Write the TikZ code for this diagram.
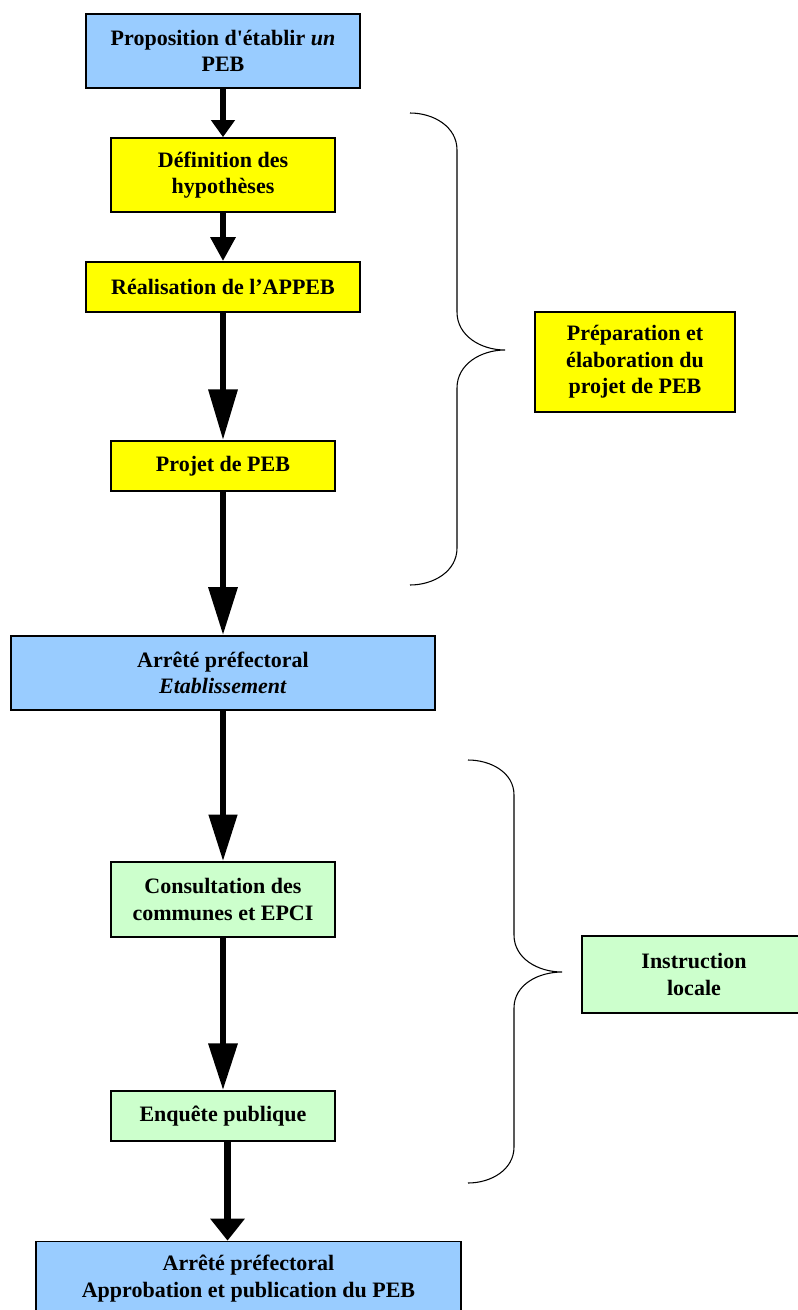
\documentclass[tikz,border=0pt]{standalone}
\usepackage{fontspec}
\setmainfont{Liberation Serif}
\usetikzlibrary{arrows.meta,positioning}

\definecolor{pebblue}{HTML}{99CCFF}
\definecolor{pebyellow}{HTML}{FFFF00}
\definecolor{pebgreen}{HTML}{CCFFCC}

\tikzset{
  box/.style={draw, line width=1.3pt, align=center, inner sep=0pt,
    font=\fontsize{16.5}{20}\selectfont\bfseries},
  acte/.style={box, fill=pebblue},
  prep/.style={box, fill=pebyellow},
  instr/.style={box, fill=pebgreen},
  flow/.style 2 args={line width=4.8pt, -{Triangle[length=#1, width=#2]}},
  brace/.style={line width=0.8pt},
}

\begin{document}
\begin{tikzpicture}[x=0.75pt, y=-0.75pt]
		\useasboundingbox (0,0) rectangle (797,1310);

		% main flow
		\node[acte, minimum width=205.5pt, minimum height=55.5pt] (prop) at (223,51)
			{Proposition d\textquotesingle établir \textit{un}\\PEB};
		\node[prep, minimum width=168pt, minimum height=55.5pt] (hyp) at (223,175)
			{Définition des\\hypothèses};
		\node[prep, minimum width=205.5pt, minimum height=37.5pt] (appeb) at (223,287)
			{Réalisation de l’APPEB};
		\node[prep, minimum width=168pt, minimum height=37.5pt] (projet) at (223,466)
			{Projet de PEB};
		\node[acte, minimum width=318pt, minimum height=55.5pt] (etab) at (223,673)
			{Arrêté préfectoral\\\textit{Etablissement}};
		\node[instr, minimum width=168pt, minimum height=56pt] (consult) at (223,899.5)
			{Consultation des\\communes et EPCI};
		\node[instr, minimum width=168pt, minimum height=37.5pt] (enquete) at (223,1116)
			{Enquête publique};
		\node[acte, minimum width=318.75pt, minimum height=55.5pt] (appro) at (248.5,1278.5)
			{Arrêté préfectoral\\Approbation et publication du PEB};

		% phases
		\node[prep, minimum width=150pt, minimum height=75pt] (phaseprep) at (635,362)
			{Préparation et\\élaboration du\\projet de PEB};
		\node[instr, minimum width=168pt, minimum height=57.75pt] (phaseinstr) at (694,974.5)
			{Instruction\\locale};

		\draw[flow={12.75pt}{17.25pt}] (prop) -- (hyp);
		\draw[flow={18pt}{18pt}] (hyp) -- (appeb);
		\draw[flow={38pt}{21pt}] (appeb) -- (projet);
		\draw[flow={36pt}{21pt}] (projet) -- (etab);
		\draw[flow={35pt}{20.5pt}] (etab) -- (consult);
		\draw[flow={35pt}{21pt}] (consult) -- (enquete);
		\draw[flow={16.5pt}{25pt}] ([xshift=3.4pt]enquete.south) -- ([xshift=3.4pt]enquete.south |- appro.north);

		% braces
		\draw[brace] (410,113) to[out=0,in=90] (457,150) -- (457,312)
			to[out=-90,in=180] (505,350) to[out=180,in=90] (457,388)
			-- (457,548) to[out=-90,in=0] (410,585);
		\draw[brace] (468,760) to[out=0,in=90] (514,795) -- (514,935)
			to[out=-90,in=180] (562,972) to[out=180,in=90] (514,1008)
			-- (514,1147) to[out=-90,in=0] (468,1183);
	\end{tikzpicture}
\end{document}
